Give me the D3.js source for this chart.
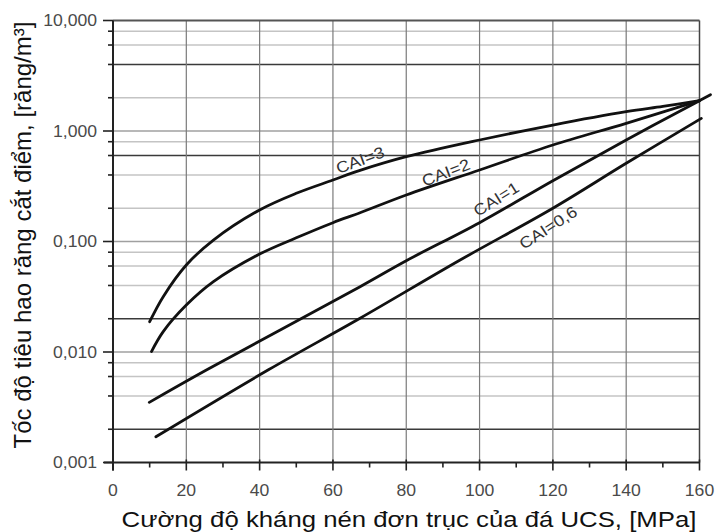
<!DOCTYPE html>
<html>
<head>
<meta charset="utf-8">
<script src="https://cdn.jsdelivr.net/npm/d3@7"></script>
<style>
  body { margin: 0; background: #fff; }
  text { font-family: "Liberation Sans", Arial, sans-serif; }
</style>
</head>
<body>
<script>
// curves: [UCS in MPa, wear rate]
const cai3 = [[10, 0.0188], [13.7, 0.0317], [20, 0.0613], [27.4, 0.103], [40, 0.193], [50, 0.273],
              [60, 0.36], [67.4, 0.44], [80, 0.585], [100, 0.829], [120, 1.133], [140, 1.495],
              [150, 1.67], [160, 1.88]];
const cai2 = [[10.5, 0.0101], [13.7, 0.0153], [20, 0.0266], [27.4, 0.0433], [40, 0.077], [50, 0.108],
              [60, 0.148], [67.4, 0.182], [80, 0.2635], [100, 0.444], [120, 0.747], [140, 1.174],
              [160, 1.88]];
const cai1 = [[9.9, 0.0035], [25.6, 0.0069], [67.4, 0.039], [80, 0.067], [100, 0.148], [120, 0.355],
              [140, 0.83], [160, 1.88], [163, 2.13]];
const cai06 = [[11.7, 0.00171], [42.4, 0.0069], [67.4, 0.0202], [94.7, 0.068], [120, 0.2],
               [140, 0.51], [160.5, 1.3]];

const seriesNames = ["CAI=3", "CAI=2", "CAI=1", "CAI=0,6"];
const seriesData = [cai3, cai2, cai1, cai06];

// label anchor (x, y) in data units and the angle of the text
const labelX = [67.4, 90.8, 104.5, 118.7];
const labelY = [0.546, 0.421, 0.2425, 0.1338];
const labelAngle = [-20, -21, -32, -33];

// axis ticks
const xTicks = [0, 20, 40, 60, 80, 100, 120, 140, 160];
const xMinorTicks = [10, 30, 50, 70, 90, 110, 130, 150];
const yTicks = [10, 1, 0.1, 0.01, 0.001];
const yTickLabels = ["10,000", "1,000", "0,100", "0,010", "0,001"];
const yMinor = [8, 6, 4, 2, 0.8, 0.6, 0.4, 0.2, 0.08, 0.06, 0.04, 0.02, 0.008, 0.006, 0.004, 0.002];
const yDark = [4, 0.6, 0.02, 0.002];

const svg = d3.select("body").append("svg")
  .attr("width", 715)
  .attr("height", 532);

let plot = { left: 113, right: 699.5, top: 20.5, bottom: 462.5 };

let x = d3.scaleLinear().domain([0, 160]).range([plot.left, plot.right]);
let y = d3.scaleLog().domain([0.001, 10]).range([plot.bottom, plot.top]);

// horizontal grid
svg.append("g").selectAll("line")
  .data(yMinor.concat([1, 0.1, 0.01]))
  .enter().append("line")
  .attr("x1", plot.left).attr("x2", plot.right)
  .attr("y1", d => y(d)).attr("y2", d => y(d))
  .attr("stroke", d => yDark.includes(d) ? "#3a3a3a" : (yTicks.includes(d) ? "#a0a0a0" : "#c4c4c4"))
  .attr("stroke-width", 1.6);

// vertical grid
svg.append("g").selectAll("line")
  .data(xTicks.slice(1, -1))
  .enter().append("line")
  .attr("x1", d => x(d)).attr("x2", d => x(d))
  .attr("y1", plot.top).attr("y2", plot.bottom)
  .attr("stroke", "#7a7a7a")
  .attr("stroke-width", 1.2);

// frame: top and right
svg.append("line")
  .attr("x1", plot.left).attr("x2", plot.right)
  .attr("y1", plot.top).attr("y2", plot.top)
  .attr("stroke", "#555").attr("stroke-width", 2);
svg.append("line")
  .attr("x1", plot.right).attr("x2", plot.right)
  .attr("y1", plot.top).attr("y2", plot.bottom)
  .attr("stroke", "#444").attr("stroke-width", 1.5);

// y axis
let yAxis = svg.append("g");
yAxis.append("line")
  .attr("x1", plot.left).attr("x2", plot.left)
  .attr("y1", plot.top).attr("y2", plot.bottom + 8)
  .attr("stroke", "#222").attr("stroke-width", 2);
yAxis.selectAll(".major").data(yTicks).enter().append("line")
  .attr("x1", plot.left - 10).attr("x2", plot.left)
  .attr("y1", d => y(d)).attr("y2", d => y(d))
  .attr("stroke", "#222").attr("stroke-width", 1.6);
yAxis.selectAll(".minor").data(yMinor).enter().append("line")
  .attr("x1", plot.left - 5).attr("x2", plot.left)
  .attr("y1", d => y(d)).attr("y2", d => y(d))
  .attr("stroke", "#222").attr("stroke-width", 1.6);
yAxis.selectAll("text").data(yTicks).enter().append("text")
  .attr("transform", d => "translate(97," + y(d) + ") scale(1.1,1)")
  .attr("text-anchor", "end")
  .attr("dy", "0.35em")
  .attr("font-size", 16)
  .attr("fill", "#4a4a4a")
  .text((d, i) => yTickLabels[i]);

// x axis
let xAxis = svg.append("g");
xAxis.append("line")
  .attr("x1", plot.left - 9).attr("x2", plot.right)
  .attr("y1", plot.bottom).attr("y2", plot.bottom)
  .attr("stroke", "#222").attr("stroke-width", 2);
xAxis.selectAll(".major").data(xTicks).enter().append("line")
  .attr("x1", d => x(d)).attr("x2", d => x(d))
  .attr("y1", plot.bottom - 3).attr("y2", plot.bottom + 8)
  .attr("stroke", "#222").attr("stroke-width", 1.6);
xAxis.selectAll(".minor").data(xMinorTicks).enter().append("line")
  .attr("x1", d => x(d)).attr("x2", d => x(d))
  .attr("y1", plot.bottom).attr("y2", plot.bottom + 5)
  .attr("stroke", "#222").attr("stroke-width", 1.6);
xAxis.selectAll("text").data(xTicks).enter().append("text")
  .attr("transform", d => "translate(" + x(d) + ",496) scale(1.1,1)")
  .attr("text-anchor", "middle")
  .attr("font-size", 16)
  .attr("fill", "#4a4a4a")
  .text(d => d);

// curves
let line = d3.line()
  .x(d => x(d[0]))
  .y(d => y(d[1]))
  .curve(d3.curveCatmullRom.alpha(0.5));

svg.append("g").selectAll("path")
  .data(seriesData)
  .enter().append("path")
  .attr("d", line)
  .attr("fill", "none")
  .attr("stroke", "#111")
  .attr("stroke-width", 2.8)
  .attr("stroke-linecap", "round");

// curve labels
svg.append("g").selectAll("text")
  .data(seriesNames)
  .enter().append("text")
  .attr("transform", (d, i) => "translate(" + x(labelX[i]) + "," + y(labelY[i]) + ") rotate(" + labelAngle[i] + ") scale(1.12,1)")
  .attr("text-anchor", "middle")
  .attr("dy", "0.35em")
  .attr("font-size", 16)
  .attr("fill", "#333")
  .text(d => d);

// axis titles
svg.append("text")
  .attr("transform", "translate(31,235) rotate(-90)")
  .attr("text-anchor", "middle")
  .attr("font-size", 24)
  .attr("fill", "#111")
  .text("Tốc độ tiêu hao răng cắt điểm, [răng/m³]");

svg.append("text")
  .attr("transform", "translate(409,527) scale(1.12,1)")
  .attr("text-anchor", "middle")
  .attr("font-size", 23)
  .attr("fill", "#111")
  .text("Cường độ kháng nén đơn trục của đá UCS, [MPa]");
</script>
</body>
</html>
